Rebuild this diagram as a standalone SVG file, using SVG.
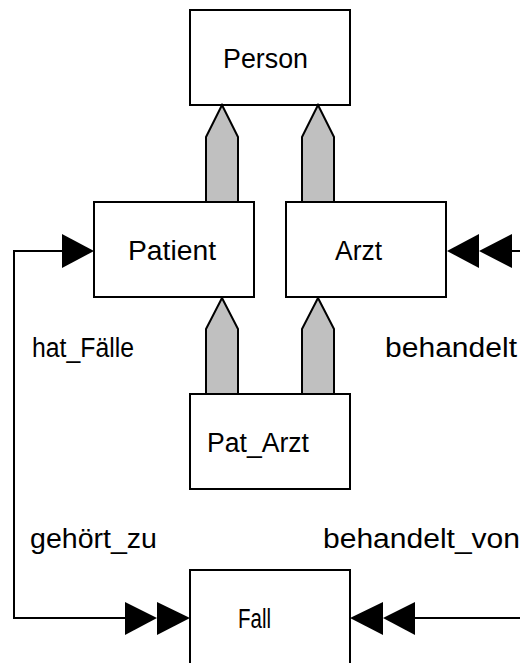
<svg xmlns="http://www.w3.org/2000/svg" width="520" height="663" viewBox="0 0 520 663">
  <style>
    .box { fill: #ffffff; stroke: #000000; stroke-width: 2; }
    .inh { fill: #c0c0c0; stroke: #000000; stroke-width: 2; stroke-linejoin: miter; }
    .line { fill: none; stroke: #000000; stroke-width: 2; }
    .head { fill: #000000; stroke: none; }
    text { font-family: "Liberation Sans", Arial, sans-serif; font-size: 27px; fill: #000000; }
  </style>

  <!-- entity boxes -->
  <g id="person">
    <rect class="box" x="190" y="10" width="160" height="95"/>
    <text x="223" y="68" textLength="85" lengthAdjust="spacingAndGlyphs">Person</text>
  </g>
  <g id="patient">
    <rect class="box" x="94" y="202" width="160" height="95"/>
    <text x="128" y="260" textLength="88" lengthAdjust="spacingAndGlyphs">Patient</text>
  </g>
  <g id="arzt">
    <rect class="box" x="286" y="202" width="160" height="95"/>
    <text x="335" y="260" textLength="47" lengthAdjust="spacingAndGlyphs">Arzt</text>
  </g>
  <g id="pat_arzt">
    <rect class="box" x="190" y="394" width="160" height="95"/>
    <text x="207" y="452" textLength="102" lengthAdjust="spacingAndGlyphs">Pat_Arzt</text>
  </g>
  <g id="fall">
    <rect class="box" x="190" y="570" width="160" height="95"/>
    <text x="238" y="628" textLength="33" lengthAdjust="spacingAndGlyphs">Fall</text>
  </g>

  <!-- connectors -->
  <g id="connectors">
    <!-- generalisation arrows -->
    <polygon class="inh" points="206,202 206,137 222,105 238,137 238,202"/>
    <polygon class="inh" points="302,202 302,137 318,105 334,137 334,202"/>
    <polygon class="inh" points="206,394 206,329 222,298 238,329 238,394"/>
    <polygon class="inh" points="302,394 302,329 318,298 334,329 334,394"/>

    <!-- hat_Fälle / gehört_zu : Patient to Fall -->
    <polyline class="line" points="62,251 14,251 14,618 125,618"/>
    <polygon class="head" points="62,234 94,251 62,268"/>
    <polygon class="head" points="125,602 157,618 125,635"/>
    <polygon class="head" points="157,602 190,618 157,635"/>

    <!-- behandelt : into Arzt -->
    <line class="line" x1="512" y1="251" x2="520" y2="251"/>
    <polygon class="head" points="479,234 447,251 479,268"/>
    <polygon class="head" points="512,234 479,251 512,268"/>

    <!-- behandelt_von : into Fall -->
    <line class="line" x1="415" y1="618" x2="520" y2="618"/>
    <polygon class="head" points="383,602 350,618 383,635"/>
    <polygon class="head" points="415,602 383,618 415,635"/>

    <!-- relation labels -->
    <text x="32" y="357" textLength="102" lengthAdjust="spacingAndGlyphs">hat_Fälle</text>
    <text x="385" y="357" textLength="132" lengthAdjust="spacingAndGlyphs">behandelt</text>
    <text x="30" y="548" textLength="127" lengthAdjust="spacingAndGlyphs">gehört_zu</text>
    <text x="323" y="548" textLength="197" lengthAdjust="spacingAndGlyphs">behandelt_von</text>
  </g>
</svg>
